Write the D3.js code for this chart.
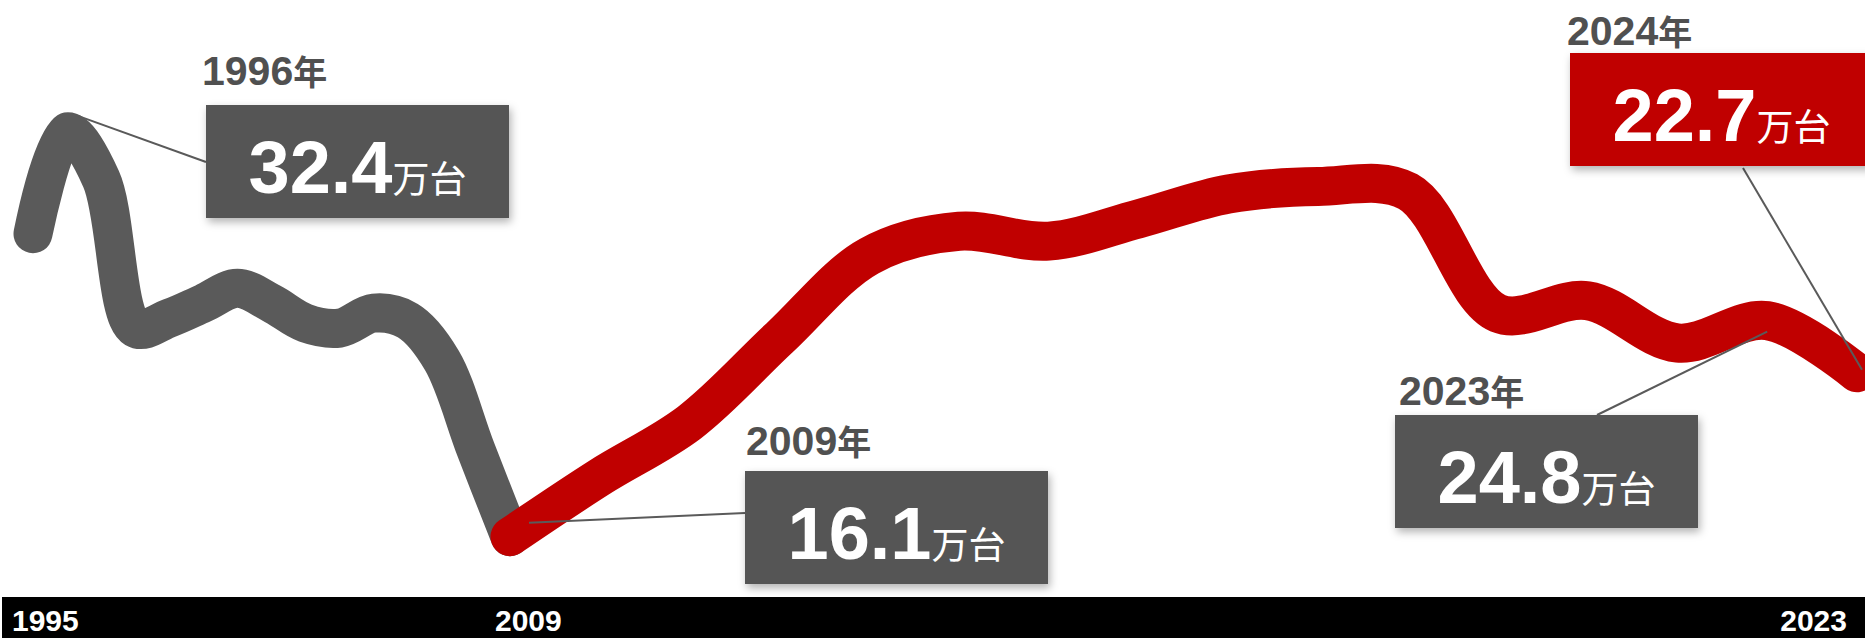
<!DOCTYPE html>
<html>
<head>
<meta charset="utf-8">
<script src="https://cdn.jsdelivr.net/npm/d3@7"></script>
<style>
  html, body { margin: 0; padding: 0; background: #fff; overflow: hidden; }
  svg { display: block; }
</style>
</head>
<body>
<script>
const width = 1865, height = 638

// sales, 万台
const grayYears = [1995, 1996, 1997, 1998, 1999, 2000, 2001, 2002, 2003, 2004, 2005, 2006, 2007, 2008, 2009]
const grayValues = [28.3, 32.4, 30.5, 24.5, 24.9, 25.5, 26.1, 25.5, 24.7, 24.5, 25.1, 24.8, 23.2, 19.6, 16.1]

const redYears = [2009, 2010, 2011, 2012, 2013, 2014, 2015, 2016, 2017, 2018, 2019, 2020, 2021, 2022, 2023, 2024]
const redValues = [16.1, 18.5, 20.7, 24.1, 27.4, 28.4, 28.0, 28.9, 29.9, 30.2, 30.0, 25.1, 25.6, 23.9, 24.8, 22.7]

const calloutYears = [1996, 2009, 2023, 2024]
const calloutValues = [32.4, 16.1, 24.8, 22.7]
const calloutUnit = "万台"

const tickYears = [1995, 2009, 2023]

const grayColor = "#5a5a5a", redColor = "#c00000", boxGray = "#555555"
const numFont = "'Liberation Sans', Arial, sans-serif"
const cjkFont = "'Noto Sans CJK JP', 'Noto Sans', sans-serif"

// the old part of the series is squeezed to the left
const x = d3.scaleLinear()
    .domain([1995, 2009, 2024])
    .range([33, 510, 1857])

const y = d3.scaleLinear()
    .domain([15, 33])
    .range([564, 117])

// callout placement (box corner, year label, leader ends)
const calloutLayout = [
  { bx: 206, by: 105, lx: 202, ly: 85, fill: boxGray, from: [8, -17], to: [0, 57] },
  { bx: 745, by: 471, lx: 746, ly: 455, fill: boxGray, from: [19, -14], to: [0, 42] },
  { bx: 1395, by: 415, lx: 1399, ly: 405, fill: boxGray, from: [0, 11], to: [202, 0] },
  { bx: 1570, by: 53, lx: 1567, ly: 45, fill: redColor, from: [5, -3], to: [173, 115] }
]
const boxW = 303, boxH = 113

const svg = d3.select("body")
    .append("svg")
      .attr("width", width)
      .attr("height", height)

const defs = svg.append("defs")
const shadow = defs.append("filter")
    .attr("id", "shadow")
    .attr("x", "-20%").attr("y", "-30%")
    .attr("width", "140%").attr("height", "160%")
shadow.append("feDropShadow")
    .attr("dx", 2).attr("dy", 4)
    .attr("stdDeviation", 4)
    .attr("flood-color", "#000")
    .attr("flood-opacity", 0.3)

const line = d3.line()
    .x(d => x(d.year))
    .y(d => y(d.value))
    .curve(d3.curveCatmullRom.alpha(0.5))

const grayData = grayYears.map((yr, i) => ({ year: yr, value: grayValues[i] }))
const redData = redYears.map((yr, i) => ({ year: yr, value: redValues[i] }))

svg.append("path")
    .datum(grayData)
    .attr("d", line)
    .attr("fill", "none")
    .attr("stroke", grayColor)
    .attr("stroke-width", 39)
    .attr("stroke-linecap", "round")
    .attr("stroke-linejoin", "round")

svg.append("path")
    .datum(redData)
    .attr("d", line)
    .attr("fill", "none")
    .attr("stroke", redColor)
    .attr("stroke-width", 39)
    .attr("stroke-linecap", "round")
    .attr("stroke-linejoin", "round")

const callouts = calloutYears.map((yr, i) => Object.assign({ year: yr, value: calloutValues[i] }, calloutLayout[i]))

// leader lines
svg.selectAll(".leader")
    .data(callouts)
    .enter()
    .append("line")
      .attr("class", "leader")
      .attr("x1", d => x(d.year) + d.from[0])
      .attr("y1", d => y(d.value) + d.from[1])
      .attr("x2", d => d.bx + d.to[0])
      .attr("y2", d => d.by + d.to[1])
      .attr("stroke", grayColor)
      .attr("stroke-width", 2)

const boxes = svg.selectAll(".callout")
    .data(callouts)
    .enter()
    .append("g")
      .attr("class", "callout")

boxes.append("rect")
    .attr("x", d => d.bx)
    .attr("y", d => d.by)
    .attr("width", boxW)
    .attr("height", boxH)
    .attr("fill", d => d.fill)
    .attr("filter", "url(#shadow)")

const valueText = boxes.append("text")
    .attr("x", d => d.bx + boxW / 2)
    .attr("y", d => d.by + 88)
    .attr("text-anchor", "middle")
    .attr("fill", "#fff")

valueText.append("tspan")
    .attr("font-family", numFont)
    .attr("font-weight", "bold")
    .attr("font-size", 74)
    .text(d => d.value.toFixed(1))

valueText.append("tspan")
    .attr("font-family", cjkFont)
    .attr("font-size", 37)
    .text(calloutUnit)

const yearText = boxes.append("text")
    .attr("x", d => d.lx)
    .attr("y", d => d.ly)
    .attr("fill", "#505050")

yearText.append("tspan")
    .attr("font-family", numFont)
    .attr("font-weight", "bold")
    .attr("font-size", 41)
    .text(d => d.year)

yearText.append("tspan")
    .attr("font-family", cjkFont)
    .attr("font-weight", "bold")
    .attr("font-size", 34)
    .text("年")

// bottom year bar
svg.append("rect")
    .attr("x", 2)
    .attr("y", 597)
    .attr("width", width - 2)
    .attr("height", height - 597)
    .attr("fill", "#000")

svg.selectAll(".tick")
    .data(tickYears)
    .enter()
    .append("text")
      .attr("class", "tick")
      .attr("x", (d, i) => i === tickYears.length - 1 ? width - 18 : (i === 0 ? 12 : x(d) - 15))
      .attr("y", 631)
      .attr("text-anchor", (d, i) => i === tickYears.length - 1 ? "end" : "start")
      .attr("fill", "#fff")
      .attr("font-family", numFont)
      .attr("font-weight", "bold")
      .attr("font-size", 30)
      .text(d => d)
</script>
</body>
</html>
